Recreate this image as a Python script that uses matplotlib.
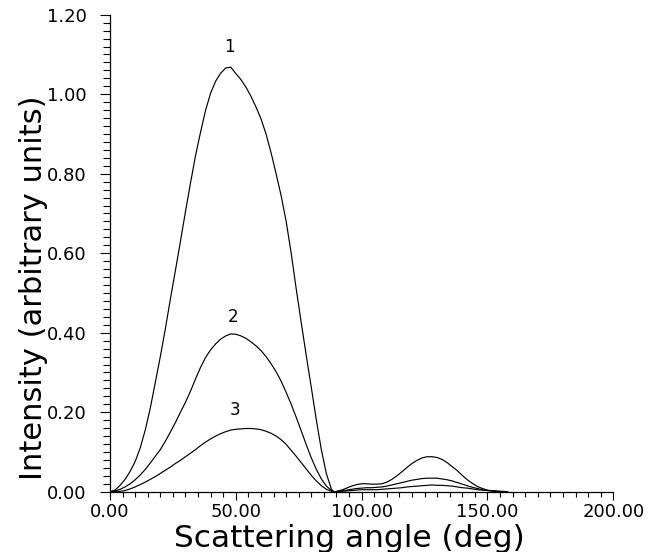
import matplotlib
matplotlib.use("Agg")
import matplotlib.pyplot as plt
from matplotlib.ticker import MultipleLocator, FormatStrFormatter

angle = [0, 2, 4, 6, 8, 10, 12, 14, 16, 18, 20, 22, 24, 26, 28, 30, 32, 34, 36, 38,
         40, 42, 44, 46, 48, 50, 52, 54, 56, 58, 60, 62, 64, 66, 68, 70, 72, 74, 76, 78,
         80, 82, 84, 86, 88, 89, 90, 92, 94, 96, 98, 100, 102, 104, 106, 108, 110, 112,
         114, 116, 118, 120, 122, 124, 126, 128, 130, 132, 134, 136, 138, 140, 142, 144,
         146, 148, 150, 152, 154, 156, 158]

curve1 = [0.0, 0.004, 0.016, 0.031, 0.051, 0.076, 0.110, 0.155, 0.210, 0.275, 0.340,
          0.410, 0.485, 0.557, 0.630, 0.705, 0.777, 0.846, 0.905, 0.960, 1.003, 1.033,
          1.053, 1.066, 1.068, 1.052, 1.037, 1.018, 0.995, 0.968, 0.938, 0.900, 0.853,
          0.800, 0.745, 0.680, 0.600, 0.510, 0.425, 0.342, 0.262, 0.180, 0.105, 0.045,
          0.006, 0.0, 0.001, 0.004, 0.009, 0.014, 0.018, 0.020, 0.020, 0.019, 0.019,
          0.020, 0.024, 0.031, 0.040, 0.050, 0.061, 0.071, 0.079, 0.085, 0.088, 0.088,
          0.086, 0.081, 0.073, 0.063, 0.053, 0.041, 0.030, 0.021, 0.013, 0.008, 0.004,
          0.002, 0.001, 0.0, 0.0]

curve2 = [0.0, 0.002, 0.006, 0.012, 0.020, 0.030, 0.042, 0.056, 0.072, 0.089, 0.106,
          0.127, 0.150, 0.174, 0.200, 0.225, 0.253, 0.284, 0.313, 0.338, 0.357, 0.372,
          0.384, 0.392, 0.397, 0.396, 0.392, 0.386, 0.377, 0.367, 0.355, 0.340, 0.322,
          0.302, 0.278, 0.250, 0.220, 0.187, 0.153, 0.118, 0.085, 0.056, 0.032, 0.014,
          0.003, 0.0, 0.0, 0.002, 0.004, 0.006, 0.008, 0.009, 0.010, 0.010, 0.011,
          0.012, 0.014, 0.017, 0.020, 0.023, 0.026, 0.029, 0.031, 0.033, 0.034, 0.034,
          0.034, 0.032, 0.030, 0.027, 0.023, 0.019, 0.015, 0.011, 0.008, 0.005, 0.003,
          0.002, 0.001, 0.0, 0.0]

curve3 = [0.0, 0.0, 0.001, 0.003, 0.007, 0.012, 0.018, 0.024, 0.031, 0.038, 0.046,
          0.054, 0.062, 0.071, 0.079, 0.088, 0.097, 0.106, 0.116, 0.125, 0.133, 0.140,
          0.146, 0.151, 0.155, 0.157, 0.158, 0.159, 0.159, 0.158, 0.156, 0.152, 0.147,
          0.140, 0.131, 0.119, 0.104, 0.089, 0.073, 0.057, 0.041, 0.027, 0.015, 0.006,
          0.001, 0.0, 0.0, 0.001, 0.002, 0.003, 0.004, 0.005, 0.005, 0.005, 0.005,
          0.006, 0.007, 0.008, 0.009, 0.010, 0.012, 0.013, 0.014, 0.015, 0.016, 0.017,
          0.016, 0.016, 0.015, 0.014, 0.012, 0.010, 0.009, 0.007, 0.005, 0.004, 0.003,
          0.002, 0.001, 0.001, 0.0]

curve_labels = ["1", "2", "3"]
label_x = [47.6, 48.8, 49.8]
label_y = [1.119, 0.440, 0.205]

xticks = [0, 50, 100, 150, 200]
yticks = [0.0, 0.2, 0.4, 0.6, 0.8, 1.0, 1.2]

plt.rcParams['font.family'] = ['DejaVu Sans']

fig = plt.figure(figsize=(6.52, 5.52), dpi=100)
ax = fig.add_axes([110 / 652, (552 - 491.7) / 552, (613.3 - 110) / 652, 477 / 552])

for ys in (curve1, curve2, curve3):
    ax.plot(angle, ys, color='black', lw=0.85)

for t, lx, ly in zip(curve_labels, label_x, label_y):
    ax.text(lx, ly, t, ha='center', va='center', fontsize=12)

ax.set_xlim(0, 200)
ax.set_ylim(0, 1.2)
ax.set_xticks(xticks)
ax.set_yticks(yticks)
ax.xaxis.set_major_formatter(FormatStrFormatter('%.2f'))
ax.yaxis.set_major_formatter(FormatStrFormatter('%.2f'))
ax.xaxis.set_minor_locator(MultipleLocator(5))
ax.yaxis.set_minor_locator(MultipleLocator(0.02))

for s in ('top', 'right'):
    ax.spines[s].set_visible(False)
for s in ('left', 'bottom'):
    ax.spines[s].set_linewidth(0.9)

ax.tick_params(axis='both', which='both', direction='out', width=0.8, labelsize=13)
ax.tick_params(axis='x', which='major', length=6, pad=2)
ax.tick_params(axis='x', which='minor', length=3.8)
ax.tick_params(axis='y', which='major', length=7, pad=10)
ax.tick_params(axis='y', which='minor', length=5)

ax.set_xlabel('Scattering angle (deg)', fontsize=22.5)
ax.set_ylabel('Intensity (arbitrary units)', fontsize=22)
ax.xaxis.label.set_va('baseline')
ax.yaxis.label.set_va('baseline')
ax.xaxis.set_label_coords(0.475, (491.7 - 547) / 477)
ax.yaxis.set_label_coords((42 - 110) / 503.3, 0.428)

fig.savefig('out.png', dpi=100)
